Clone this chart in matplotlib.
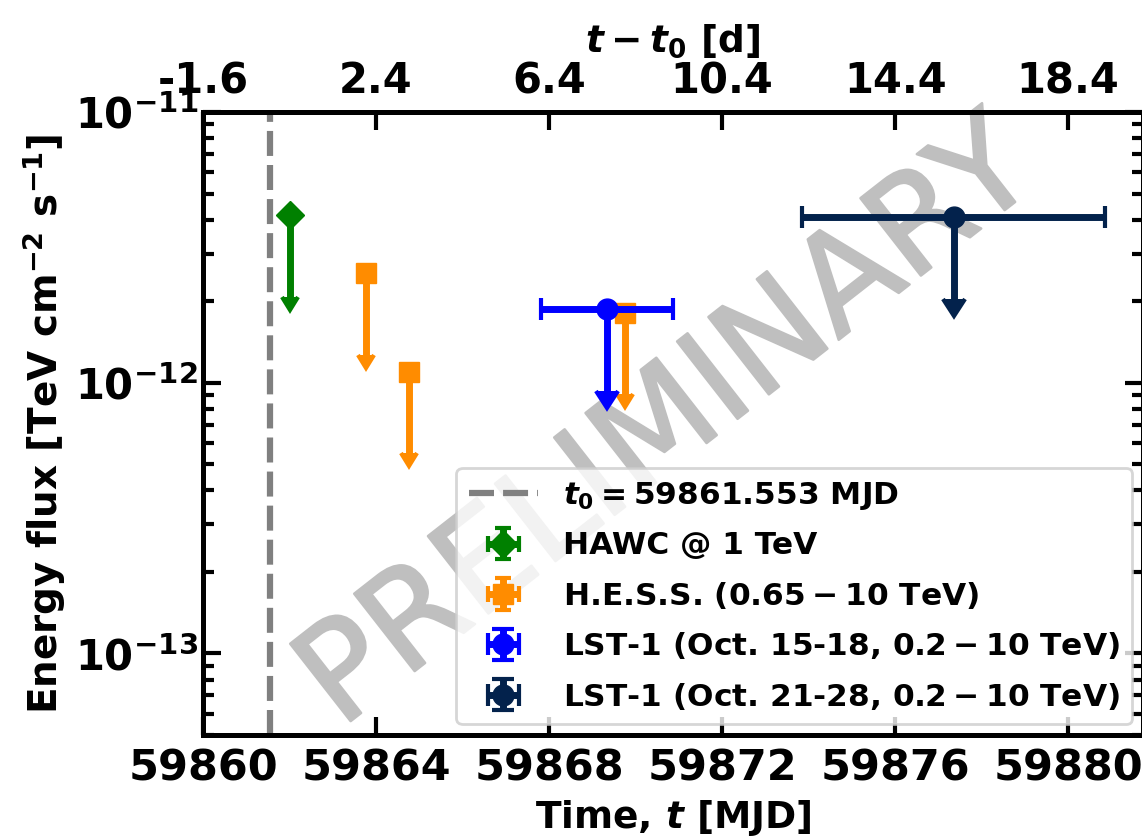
import numpy as np
import matplotlib
matplotlib.use("Agg")
import matplotlib.pyplot as plt
import matplotlib.patheffects as pe

# reference time of the dashed line
t0 = 59861.553

# HAWC upper limit @ 1 TeV
hawcT = [59862.01]
hawcFlux = [4.15e-12]

# H.E.S.S. upper limits (0.65 - 10 TeV)
hessT = [59863.77, 59864.76, 59869.76]
hessFlux = [2.54e-12, 1.10e-12, 1.81e-12]

# LST-1 upper limits
lst1T = [59869.34]
lst1Err = [1.53]
lst1Flux = [1.87e-12]
lst2T = [59877.35]
lst2Err = [3.51]
lst2Flux = [4.09e-12]

xTicks = [59860, 59864, 59868, 59872, 59876, 59880]

plt.rcParams['font.family'] = 'DejaVu Sans'
plt.rcParams['font.weight'] = 'bold'
plt.rcParams['mathtext.fontset'] = 'custom'
plt.rcParams['mathtext.rm'] = 'DejaVu Sans:bold'
plt.rcParams['mathtext.bf'] = 'DejaVu Sans:bold'
plt.rcParams['mathtext.it'] = 'DejaVu Sans:italic:bold'

fig = plt.figure(figsize=(11.42, 8.39), dpi=100)
ax = fig.add_axes([203/1142, 1 - 735/839, (1143 - 203)/1142, (735 - 112)/839])

# watermark
ax.text(0.495, 0.497, 'PRELIMINARY', transform=ax.transAxes, rotation=38,
        fontsize=97, fontweight='normal', color='#bfbfbf',
        ha='center', va='center', zorder=0,
        path_effects=[pe.withStroke(linewidth=1.8, foreground='#bfbfbf')])

ax.axvline(t0, color='gray', ls='--', lw=4.5, dashes=(4, 1.45),
           label=r'$t_0 = 59861.553$ MJD', zorder=1)

hawcFlux = np.array(hawcFlux)
ax.errorbar(hawcT, hawcFlux, yerr=0.5*hawcFlux, xerr=0, uplims=True, fmt='D',
            color='green', ms=14, elinewidth=5, capsize=6, capthick=3,
            label='HAWC @ 1 TeV', zorder=3)
hessFlux = np.array(hessFlux)
ax.errorbar(hessT, hessFlux, yerr=0.5*hessFlux, xerr=0, uplims=True, fmt='s',
            color='darkorange', ms=15, elinewidth=5, capsize=6, capthick=3,
            label=r'H.E.S.S. ($0.65 - 10$ TeV)', zorder=3)
lst1Flux = np.array(lst1Flux)
ax.errorbar(lst1T, lst1Flux, yerr=0.5*lst1Flux, xerr=lst1Err, uplims=True, fmt='o',
            color='blue', ms=15, elinewidth=5, capsize=8, capthick=3,
            label=r'LST-1 (Oct. 15-18, $0.2 - 10$ TeV)', zorder=4)
lst2Flux = np.array(lst2Flux)
ax.errorbar(lst2T, lst2Flux, yerr=0.5*lst2Flux, xerr=lst2Err, uplims=True, fmt='o',
            color='#03224c', ms=15, elinewidth=5, capsize=8, capthick=3,
            label=r'LST-1 (Oct. 21-28, $0.2 - 10$ TeV)', zorder=4)

ax.set_yscale('log')
ax.set_ylim(5e-14, 1e-11)
ax.set_xlim(59860, 59881.73)
ax.set_xticks(xTicks)
ax.set_xticklabels([str(t) for t in xTicks])
ax.set_xlabel(r'Time, $t$ [MJD]', fontsize=27, fontweight='bold', labelpad=6)
ax.set_ylabel(r'Energy flux [TeV cm$^{-2}$ s$^{-1}$]', fontsize=28, fontweight='bold', labelpad=5)
ax.tick_params(which='both', direction='in', right=True, labelsize=30, width=3)
ax.tick_params(which='major', length=13)
ax.tick_params(which='minor', length=8)
ax.tick_params(axis='x', which='minor', bottom=False, top=False)
ax.tick_params(axis='x', labelsize=31, pad=9)
for s in ax.spines.values():
    s.set_linewidth(3.6)

ax2 = ax.twiny()
ax2.set_xlim(ax.get_xlim())
ax2.set_xticks(xTicks)
ax2.set_xticklabels(['%.1f' % (t - t0) for t in xTicks])
ax2.tick_params(direction='in', labelsize=30, width=3, length=13, pad=7)
ax2.set_xlabel(r'$t - t_0$ [d]', fontsize=27, fontweight='bold', labelpad=6)

leg = ax.legend(loc='lower right', fontsize=22.5, borderaxespad=0.35,
                labelspacing=0.62, handlelength=2.2)
leg.get_frame().set_linewidth(2)

fig.savefig('out.png', dpi=100)
